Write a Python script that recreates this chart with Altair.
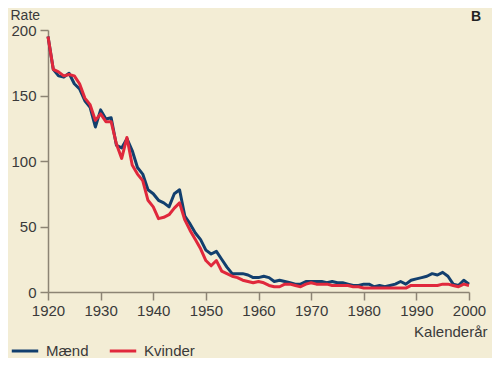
import altair as alt
import pandas as pd

years = list(range(1920, 2001))

maend = [195, 170, 165, 164, 167, 159, 155, 146, 141, 126,
         139, 132, 133, 112, 110, 117, 108, 95, 90, 78,
         75, 70, 68, 65, 75, 78, 58, 52, 45, 40,
         32, 29, 31, 25, 19, 14, 14, 14, 13, 11,
         11, 12, 11, 8, 9, 8, 7, 6, 6, 8,
         8, 8, 8, 7, 8, 7, 7, 6, 5, 5,
         6, 6, 4, 5, 4, 5, 6, 8, 6, 9,
         10, 11, 12, 14, 13, 15, 12, 6, 5, 9,
         6]

kvinder = [195, 170, 168, 165, 166, 165, 159, 148, 143, 131,
           136, 130, 130, 113, 102, 118, 97, 90, 85, 70,
           65, 56, 57, 59, 64, 68, 55, 47, 40, 33,
           24, 20, 24, 16, 14, 12, 11, 9, 8, 7,
           8, 7, 5, 4, 4, 6, 6, 5, 4, 6,
           7, 6, 6, 6, 5, 5, 5, 5, 4, 4,
           3, 3, 3, 3, 3, 3, 3, 3, 3, 5,
           5, 5, 5, 5, 5, 6, 6, 5, 4, 6,
           5]

series = ["Mænd", "Kvinder"]
colors = ["#123f6e", "#e0283c"]
x_ticks = [1920, 1930, 1940, 1950, 1960, 1970, 1980, 1990, 2000]
y_ticks = [0, 50, 100, 150, 200]

rows = []
for name, vals in zip(series, [maend, kvinder]):
    for y, v in zip(years, vals):
        rows.append({"year": y, "rate": v, "serie": name})
df = pd.DataFrame(rows)

FONT = "Liberation Sans"
TXT = "#3a3a3a"
AX = "#8c8474"

lines = alt.Chart(df).mark_line(strokeWidth=3, strokeJoin="round").encode(
    x=alt.X("year:Q",
            scale=alt.Scale(domain=[1920, 2000], nice=False, zero=False),
            axis=alt.Axis(values=x_ticks, format="d", title="Kalenderår",
                          titleAlign="right", titleAnchor="end", titleX=439, titleY=44,
                          titleBaseline="alphabetic", titleFontWeight="normal",
                          titleFontSize=15, titleColor=TXT, titleFont=FONT,
                          labelFontSize=15, labelColor=TXT, labelFont=FONT,
                          labelFlush=False, labelOverlap=False,
                          labelPadding=3, tickSize=8, tickColor=AX, domainColor=AX,
                          grid=False, domainWidth=1.5, tickWidth=1.5)),
    y=alt.Y("rate:Q",
            scale=alt.Scale(domain=[0, 200], nice=False),
            axis=alt.Axis(values=y_ticks, title="Rate", titleAngle=0,
                          titleAlign="left", titleX=-38, titleY=-11,
                          titleBaseline="alphabetic", titleFontWeight="normal",
                          titleFontSize=14, titleColor=TXT, titleFont=FONT,
                          labelFontSize=15, labelColor=TXT, labelFont=FONT,
                          labelFlush=False, labelOverlap=False,
                          labelPadding=4, tickSize=8, tickColor=AX, domainColor=AX,
                          grid=False, domainWidth=1.5, tickWidth=1.5)),
    color=alt.Color("serie:N",
                    scale=alt.Scale(domain=series, range=colors),
                    sort=series,
                    legend=alt.Legend(title=None, orient="none", direction="horizontal",
                                      legendX=-38, legendY=306, padding=0,
                                      symbolType="stroke", symbolSize=700,
                                      symbolStrokeWidth=3, labelFontSize=15,
                                      labelFont=FONT, labelColor=TXT,
                                      columnPadding=14, labelOffset=6)),
    order=alt.Order("serie_order:Q"),
).transform_calculate(serie_order="datum.serie == 'Mænd' ? 0 : 1")

badge = alt.Chart(pd.DataFrame({"t": ["B"]})).mark_text(
    font=FONT, fontSize=14, fontWeight="bold", color="#222222", align="center",
    baseline="alphabetic"
).encode(text="t:N", x=alt.value(428), y=alt.value(-9))

chart = alt.layer(lines, badge).properties(
    width=421, height=262,
    autosize=alt.AutoSizeParams(type="none"),
    padding={"left": 40, "top": 22, "right": 23, "bottom": 66},
    background="#F3EDD5",
).configure_view(stroke=None)

chart.save("out.html", embed_options={"renderer": "svg", "actions": False})
